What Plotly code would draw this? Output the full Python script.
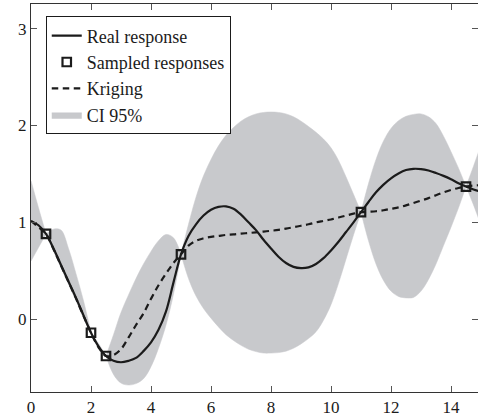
import plotly.graph_objects as go

# Common abscissa grid (step 0.25 from 0 to 15)
x_grid = [i * 0.25 for i in range(61)]

real_response = [
    1.01, 0.97, 0.88, 0.73, 0.56, 0.39, 0.22, 0.04, -0.14, -0.28,
    -0.38, -0.43, -0.445, -0.43, -0.40, -0.33, -0.24, -0.11, 0.08, 0.38,
    0.67, 0.86, 0.98, 1.07, 1.13, 1.16, 1.165, 1.14, 1.08, 1.00,
    0.92, 0.82, 0.73, 0.645, 0.58, 0.54, 0.527, 0.535, 0.57, 0.63,
    0.71, 0.80, 0.90, 1.00, 1.105, 1.21, 1.31, 1.39, 1.455, 1.505,
    1.54, 1.553, 1.55, 1.535, 1.51, 1.48, 1.445, 1.405, 1.37, 1.34,
    1.315,
]

kriging = [
    1.015, 0.95, 0.88, 0.725, 0.555, 0.385, 0.215, 0.035, -0.14, -0.29,
    -0.38, -0.37, -0.31, -0.19, -0.06, 0.06, 0.21, 0.35, 0.47, 0.58,
    0.67, 0.76, 0.81, 0.835, 0.85, 0.86, 0.87, 0.875, 0.883, 0.89,
    0.897, 0.905, 0.913, 0.922, 0.935, 0.95, 0.965, 0.98, 1.00, 1.015,
    1.03, 1.05, 1.07, 1.09, 1.105, 1.11, 1.115, 1.125, 1.14, 1.155,
    1.175, 1.20, 1.225, 1.25, 1.28, 1.31, 1.335, 1.355, 1.37, 1.38,
    1.385,
]

ci_upper = [
    1.43, 1.15, 0.88, 0.93, 0.92, 0.73, 0.47, 0.19, -0.14, -0.25,
    -0.38, -0.16, 0.07, 0.25, 0.42, 0.57, 0.70, 0.81, 0.875, 0.84,
    0.67, 0.98, 1.26, 1.48, 1.65, 1.79, 1.90, 1.98, 2.045, 2.09,
    2.12, 2.135, 2.14, 2.135, 2.12, 2.09, 2.045, 1.99, 1.93, 1.86,
    1.77, 1.64, 1.47, 1.29, 1.105, 1.40, 1.65, 1.84, 1.97, 2.05,
    2.095, 2.115, 2.12, 2.09, 2.02, 1.89, 1.73, 1.56, 1.37, 1.58,
    1.80,
]

ci_lower = [
    0.60, 0.74, 0.88, 0.70, 0.53, 0.36, 0.19, 0.01, -0.14, -0.30,
    -0.38, -0.57, -0.66, -0.68, -0.665, -0.615, -0.49, -0.30, -0.06, 0.26,
    0.67, 0.42, 0.24, 0.11, 0.01, -0.08, -0.16, -0.22, -0.27, -0.31,
    -0.335, -0.35, -0.35, -0.345, -0.33, -0.30, -0.255, -0.20, -0.13, -0.01,
    0.15, 0.37, 0.62, 0.87, 1.105, 0.81, 0.57, 0.40, 0.29, 0.235,
    0.22, 0.225, 0.29, 0.41, 0.57, 0.76, 0.95, 1.15, 1.37, 1.18,
    0.97,
]

sample_x = [0.5, 2.0, 2.5, 5.0, 11.0, 14.5]
sample_y = [0.88, -0.14, -0.38, 0.67, 1.105, 1.37]

x_ticks = [0, 2, 4, 6, 8, 10, 12, 14]
y_ticks = [0, 1, 2, 3]

INK = "#1b1b1b"
BAND = "rgb(200,201,204)"
FONT = "Liberation Serif"

fig = go.Figure()

# The confidence band collapses at every sample, so each span between
# samples is filled separately (lower edge, then upper edge on top of it).
cuts = [0] + [x_grid.index(s) for s in sample_x] + [len(x_grid) - 1]
cuts = sorted(set(cuts))
for k in range(len(cuts) - 1):
    a, b = cuts[k], cuts[k + 1]
    xs = x_grid[a:b + 1]
    fig.add_trace(go.Scatter(
        x=xs, y=ci_lower[a:b + 1], mode="lines",
        line=dict(width=0.5, color=BAND, shape="spline"),
        showlegend=False, legendgroup="ci", hoverinfo="skip",
    ))
    fig.add_trace(go.Scatter(
        x=xs, y=ci_upper[a:b + 1], mode="lines",
        fill="tonexty", fillcolor=BAND,
        line=dict(width=0.5, color=BAND, shape="spline"),
        name="CI 95%", legendgroup="ci", showlegend=(k == 0),
        legendrank=4, hoverinfo="skip",
    ))

fig.add_trace(go.Scatter(
    x=x_grid, y=kriging, mode="lines", name="Kriging",
    line=dict(color=INK, width=2.2, dash="6.5px,4.5px", shape="spline"),
    legendrank=3,
))

fig.add_trace(go.Scatter(
    x=x_grid, y=real_response, mode="lines", name="Real response",
    line=dict(color=INK, width=2.2, shape="spline"),
    legendrank=1,
))

fig.add_trace(go.Scatter(
    x=sample_x, y=sample_y, mode="markers", name="Sampled responses",
    marker=dict(symbol="square-open", size=8.5, color=INK,
                line=dict(width=2.2, color=INK)),
    legendrank=2,
))

# Right-hand tick marks (the right spine itself lies just outside the frame)
fig.add_trace(go.Scatter(x=[None], y=[None], yaxis="y2", showlegend=False,
                         hoverinfo="skip"))

fig.update_layout(
    width=478, height=419,
    margin=dict(l=31, r=0, t=4, b=27),
    paper_bgcolor="white", plot_bgcolor="white",
    font=dict(family=FONT, size=17, color=INK),
    showlegend=True,
    legend=dict(
        x=0.033, y=0.968, xanchor="left", yanchor="top",
        bgcolor="white", bordercolor=INK, borderwidth=1,
        font=dict(family=FONT, size=18, color=INK),
        tracegroupgap=0, itemwidth=30,
        entrywidth=150, entrywidthmode="pixels",
    ),
    xaxis=dict(
        range=[0, 14.9], tickvals=x_ticks, ticktext=[str(v) for v in x_ticks],
        showgrid=False, zeroline=False, showline=True, linecolor="#333",
        linewidth=1, mirror="ticks", ticks="inside", ticklen=6,
        tickcolor="#555", tickfont=dict(family=FONT, size=17, color=INK),
    ),
    yaxis=dict(
        range=[-0.752, 3.255], tickvals=y_ticks,
        ticktext=[str(v) for v in y_ticks],
        showgrid=False, zeroline=False, showline=True, linecolor="#333",
        linewidth=1, ticks="inside", ticklen=6, tickcolor="#555",
        tickfont=dict(family=FONT, size=17, color=INK),
    ),
    yaxis2=dict(
        overlaying="y", side="right", matches="y", tickvals=y_ticks,
        showticklabels=False, showgrid=False, zeroline=False,
        showline=False, ticks="inside", ticklen=6, tickcolor="#555",
    ),
)

fig.write_html("out.html")
